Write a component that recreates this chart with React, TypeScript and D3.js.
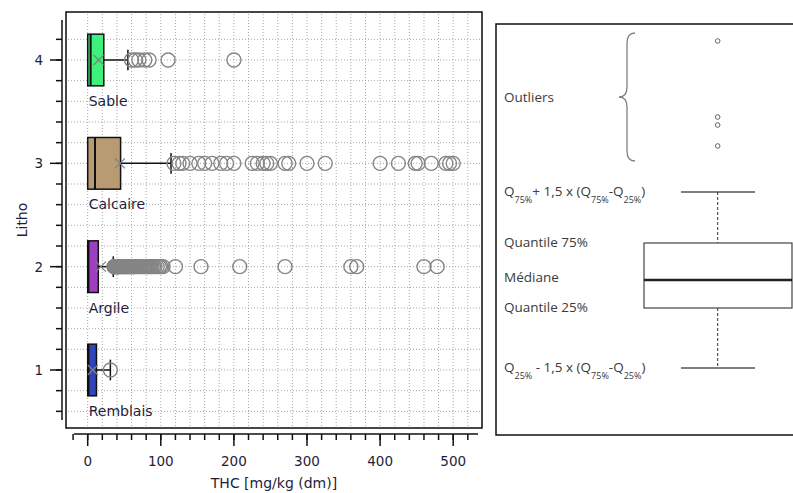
import React from 'react';
import * as d3 from 'd3';

// ---------- data ----------
const categories = ['Remblais', 'Argile', 'Calcaire', 'Sable'];
const lithoCodes = [1, 2, 3, 4];
const q1Values = [0, 0, 0, 0];
const medianValues = [1, 1, 10, 4];
const q3Values = [12, 14.5, 45, 22];
const meanValues = [7, 18, 44, 15];
const whiskerHighValues = [31, 35, 114, 55];
const boxColors = ['#2f45b8', '#9e3fc0', '#b89b72', '#3ef07c'];

const outliersRemblais = [31];
const outliersArgile = [
  36, 36.5, 37, 37.5, 38, 38.5, 39, 39.5, 40, 40.5, 41, 41.5, 42, 42.5, 43, 44, 45, 46,
  47, 48, 49, 50, 51, 52, 53, 54, 55, 56, 57, 58, 59, 60, 61, 62, 63, 64, 66, 68, 70,
  72, 74, 76, 78, 80, 82, 84, 86, 88, 90, 92, 95, 98, 100, 103,
  120, 155, 208, 270, 360, 368, 460, 478,
];
const outliersCalcaire = [
  118, 125, 130, 140, 152, 160, 170, 182, 190, 200, 225, 232, 240, 245, 250,
  270, 275, 300, 325, 400, 425, 448, 452, 470, 490, 495, 500,
];
const outliersSable = [60, 65, 70, 78, 84, 110, 200];
const outlierGroups = [outliersRemblais, outliersArgile, outliersCalcaire, outliersSable];

const xTickValues = [0, 100, 200, 300, 400, 500];
const yTickValues = [1, 2, 3, 4];
const xTitle = 'THC [mg/kg (dm)]';
const yTitle = 'Litho';

// schematic legend (arbitrary units along its vertical axis)
const legendOutliers = [22.2, 24.3, 25.1, 32.7];
const legendWhiskerLow = 0;
const legendQ1 = 6.0;
const legendMedian = 8.8;
const legendQ3 = 12.5;
const legendWhiskerHigh = 17.6;

export default function App() {
  const W = 793;
  const H = 493;
  const frame = { left: 66, top: 12, right: 482, bottom: 428 };

  const x = d3.scaleLinear().domain([0, 500]).range([87.7, 453.2]);
  const y = d3.scaleLinear().domain([1, 4]).range([370, 60]);
  const boxHalf = 0.25;
  const capHalf = 0.1;

  const gridX = d3.range(0, 521, 20);
  const gridY = d3.range(0.6, 4.21, 0.2);
  const minorX = d3.range(-20, 521, 20);
  const minorY = d3.range(0.6, 4.21, 0.2);

  const axisFont = 'DejaVu Sans, Verdana, sans-serif';
  const textCol = '#1e1e3c';
  const gridCol = '#a8a8a8';

  // legend scale
  const ly = d3.scaleLinear().domain([0, 10]).range([368, 268]);
  const lxCenter = 717.7;
  const legendFont = 'Open Sans, Noto Sans, sans-serif';
  const legendCol = '#3a3a3a';

  const sub = (t: string) => (
    <tspan baselineShift="sub" fontSize={9}>{t}</tspan>
  );

  const braceTop = ly(legendOutliers[3]) - 8;
  const braceBot = ly(legendOutliers[0]) + 15;
  const braceMid = (braceTop + braceBot) / 2;
  const bx = 627;
  const bracePath = `M ${bx + 8} ${braceTop} Q ${bx} ${braceTop} ${bx} ${braceTop + 10} L ${bx} ${braceMid - 10} Q ${bx} ${braceMid} ${bx - 8} ${braceMid} Q ${bx} ${braceMid} ${bx} ${braceMid + 10} L ${bx} ${braceBot - 10} Q ${bx} ${braceBot} ${bx + 8} ${braceBot}`;

  return (
    <svg width={W} height={H} style={{ position: 'absolute', left: 0, top: 0, background: '#fff' }}>
      <rect x={0} y={0} width={W} height={H} fill="#fff" />
      {/* grid */}
      <g stroke={gridCol} strokeWidth={1} strokeDasharray="1 2">
        {gridX.map((v) => (
          <line key={'gx' + v} x1={x(v)} x2={x(v)} y1={frame.top + 2} y2={frame.bottom - 1} />
        ))}
        {gridY.map((v) => (
          <line key={'gy' + v} x1={frame.left + 2} x2={frame.right - 1} y1={y(v)} y2={y(v)} />
        ))}
      </g>
      {/* frame */}
      <rect x={frame.left} y={frame.top} width={frame.right - frame.left} height={frame.bottom - frame.top}
        fill="none" stroke="#1a1a1a" strokeWidth={1.6} />

      {/* boxes */}
      {categories.map((c, i) => {
        const yc = y(lithoCodes[i]);
        const yTop = y(lithoCodes[i] + boxHalf);
        const yBot = y(lithoCodes[i] - boxHalf);
        const capT = y(lithoCodes[i] + capHalf);
        const capB = y(lithoCodes[i] - capHalf);
        const mx = x(meanValues[i]);
        return (
          <g key={c}>
            <line x1={x(q3Values[i])} x2={x(whiskerHighValues[i])} y1={yc} y2={yc} stroke="#111" strokeWidth={1.5} />
            <line x1={x(whiskerHighValues[i])} x2={x(whiskerHighValues[i])} y1={capT} y2={capB} stroke="#111" strokeWidth={1.5} />
            <rect x={x(q1Values[i])} y={yTop} width={x(q3Values[i]) - x(q1Values[i])} height={yBot - yTop}
              fill={boxColors[i]} stroke="#111" strokeWidth={1.5} />
            <line x1={x(medianValues[i])} x2={x(medianValues[i])} y1={yTop} y2={yBot} stroke="#111" strokeWidth={2} />
            {outlierGroups[i].map((v, j) => (
              <circle key={j} cx={x(v)} cy={yc} r={7} fill="none" stroke="#858585" strokeWidth={1.4} />
            ))}
            <g stroke="#808080" strokeWidth={1.2}>
              <line x1={mx - 5} x2={mx + 5} y1={yc - 5} y2={yc + 5} />
              <line x1={mx - 5} x2={mx + 5} y1={yc + 5} y2={yc - 5} />
            </g>
            <text x={x(0) + 1} y={yc + 46} fontFamily={axisFont} fontSize={14} fill={textCol}>{c}</text>
          </g>
        );
      })}

      {/* y axis */}
      <line x1={62} x2={62} y1={20} y2={420} stroke="#111" strokeWidth={1.5} />
      {minorY.map((v) => (
        <line key={'my' + v} x1={56} x2={62} y1={y(v)} y2={y(v)} stroke="#111" strokeWidth={1.5} />
      ))}
      {yTickValues.map((v) => (
        <g key={'yt' + v}>
          <line x1={50} x2={62} y1={y(v)} y2={y(v)} stroke="#111" strokeWidth={1.5} />
          <text x={43} y={y(v)} dy="0.36em" textAnchor="end" fontFamily={axisFont} fontSize={13.5} fill={textCol}>{v}</text>
        </g>
      ))}
      <text transform={`translate(27, ${(20 + 420) / 2}) rotate(-90)`} textAnchor="middle" fontFamily={axisFont}
        fontSize={14} fill={textCol}>{yTitle}</text>

      {/* x axis */}
      <line x1={74} x2={478} y1={434} y2={434} stroke="#111" strokeWidth={1.5} />
      {minorX.map((v) => (
        <line key={'mx' + v} x1={x(v)} x2={x(v)} y1={434} y2={440} stroke="#111" strokeWidth={1.5} />
      ))}
      {xTickValues.map((v) => (
        <g key={'xt' + v}>
          <line x1={x(v)} x2={x(v)} y1={434} y2={446} stroke="#111" strokeWidth={1.5} />
          <text x={x(v)} y={466} textAnchor="middle" fontFamily={axisFont} fontSize={13.5} fill={textCol}>{v}</text>
        </g>
      ))}
      <text x={274} y={488} textAnchor="middle" fontFamily={axisFont} fontSize={14} fill={textCol}>{xTitle}</text>

      {/* schematic legend panel */}
      <rect x={496} y={24} width={320} height={411} fill="#fff" stroke="#111" strokeWidth={1.5} />
      <path d={bracePath} fill="none" stroke="#808080" strokeWidth={1.3} />
      {legendOutliers.map((v, i) => (
        <circle key={'lo' + i} cx={lxCenter} cy={ly(v)} r={2.3} fill="none" stroke="#666" strokeWidth={1} />
      ))}
      <line x1={681} x2={755} y1={ly(legendWhiskerHigh)} y2={ly(legendWhiskerHigh)} stroke="#555" strokeWidth={1.3} />
      <line x1={681} x2={755} y1={ly(legendWhiskerLow)} y2={ly(legendWhiskerLow)} stroke="#555" strokeWidth={1.3} />
      <line x1={lxCenter} x2={lxCenter} y1={ly(legendWhiskerHigh)} y2={ly(legendQ3)} stroke="#333" strokeWidth={1} strokeDasharray="3 2" />
      <line x1={lxCenter} x2={lxCenter} y1={ly(legendQ1)} y2={ly(legendWhiskerLow)} stroke="#333" strokeWidth={1} strokeDasharray="3 2" />
      <rect x={644} y={ly(legendQ3)} width={148} height={ly(legendQ1) - ly(legendQ3)} fill="#fff" stroke="#444" strokeWidth={1.2} />
      <line x1={644} x2={792} y1={ly(legendMedian)} y2={ly(legendMedian)} stroke="#222" strokeWidth={2.5} />

      <g fontFamily={legendFont} fontSize={13.5} fill={legendCol}>
        <text x={504} y={(braceTop + braceBot) / 2} dy="0.35em">Outliers</text>
        <text x={504} y={ly(legendWhiskerHigh)} dy="0.3em">Q{sub('75%')}+ 1,5 x (Q{sub('75%')}-Q{sub('25%')})</text>
        <text x={504} y={ly(legendQ3) - 1} dy="0.35em">Quantile 75%</text>
        <text x={504} y={ly(legendMedian) - 3} dy="0.35em">Médiane</text>
        <text x={504} y={ly(legendQ1) - 1} dy="0.35em">Quantile 25%</text>
        <text x={504} y={ly(legendWhiskerLow)} dy="0.3em">Q{sub('25%')} - 1,5 x (Q{sub('75%')}-Q{sub('25%')})</text>
      </g>
    </svg>
  );
}
